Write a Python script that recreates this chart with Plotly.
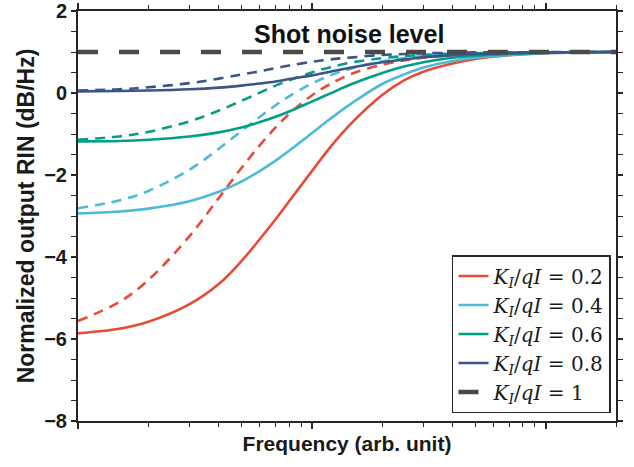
import plotly.graph_objects as go

# Frequency samples (arb. unit)
freq = [1, 1.5, 2, 3, 4, 5, 6, 7, 8, 10, 12, 15, 20, 25, 30, 40, 50, 70, 100, 150, 200]

# Solid curves (normalized output RIN, dB/Hz)
rin_02 = [-5.86, -5.75, -5.58, -5.15, -4.66, -4.10, -3.56, -3.08, -2.64, -1.91, -1.32, -0.70, -0.05, 0.32, 0.52, 0.72, 0.83, 0.92, 0.97, 0.99, 1.00]
rin_04 = [-2.94, -2.89, -2.82, -2.64, -2.41, -2.16, -1.90, -1.65, -1.41, -0.98, -0.63, -0.23, 0.22, 0.46, 0.62, 0.78, 0.86, 0.93, 0.97, 0.99, 1.00]
rin_06 = [-1.18, -1.17, -1.14, -1.06, -0.96, -0.84, -0.71, -0.58, -0.45, -0.21, -0.01, 0.23, 0.49, 0.65, 0.75, 0.86, 0.91, 0.95, 0.98, 0.99, 1.00]
rin_08 = [0.04, 0.05, 0.06, 0.09, 0.13, 0.18, 0.23, 0.28, 0.34, 0.43, 0.52, 0.63, 0.75, 0.82, 0.87, 0.92, 0.95, 0.97, 0.99, 1.00, 1.00]

# Dashed curves
rin_02_d = [-5.56, -5.10, -4.56, -3.49, -2.56, -1.83, -1.27, -0.84, -0.51, -0.06, 0.22, 0.48, 0.69, 0.80, 0.86, 0.92, 0.95, 0.97, 0.99, 1.00, 1.00]
rin_04_d = [-2.81, -2.62, -2.39, -1.87, -1.36, -0.93, -0.58, -0.30, -0.08, 0.23, 0.43, 0.61, 0.77, 0.85, 0.90, 0.94, 0.96, 0.98, 0.99, 1.00, 1.00]
rin_06_d = [-1.14, -1.06, -0.95, -0.69, -0.43, -0.19, 0.01, 0.18, 0.31, 0.50, 0.63, 0.75, 0.85, 0.90, 0.93, 0.96, 0.97, 0.99, 0.99, 1.00, 1.00]
rin_08_d = [0.06, 0.09, 0.14, 0.24, 0.35, 0.45, 0.53, 0.61, 0.67, 0.76, 0.82, 0.87, 0.93, 0.95, 0.97, 0.98, 0.99, 0.99, 1.00, 1.00, 1.00]

shot_x = [1, 200]
shot_y = [1, 1]

labels = ["0.2", "0.4", "0.6", "0.8"]
colors = ["#E64B35", "#4DBBD5", "#00A087", "#3C5488"]
solids = [rin_02, rin_04, rin_06, rin_08]
dashes = [rin_02_d, rin_04_d, rin_06_d, rin_08_d]

fig = go.Figure()
for lab, col, s, d in zip(labels, colors, solids, dashes):
    fig.add_trace(go.Scatter(
        x=freq, y=s, mode="lines", line=dict(color=col, width=2.6, shape="spline"),
        name=f"<i>K</i><sub><i>I</i></sub>/<i>qI</i> = {lab}", showlegend=True))
    fig.add_trace(go.Scatter(
        x=freq, y=d, mode="lines", line=dict(color=col, width=2.6, dash="10px,7px", shape="spline"),
        showlegend=False))

fig.add_trace(go.Scatter(
    x=shot_x, y=shot_y, mode="lines", line=dict(color="#4a4a4a", width=4.5, dash="20px,21px"),
    name="<i>K</i><sub><i>I</i></sub>/<i>qI</i> = 1"))

minor_x = [m * 10 ** e for e in range(0, 3) for m in range(2, 10) if m * 10 ** e <= 200]

fig.update_layout(
    width=634, height=467,
    margin=dict(l=78, r=18, t=11, b=46, autoexpand=False),
    paper_bgcolor="white", plot_bgcolor="white",
    font=dict(family="Liberation Sans, Arial, sans-serif", color="#1a1a1a"),
    showlegend=True,
    legend=dict(
        x=0.9907, y=0.0195, xanchor="right", yanchor="bottom",
        bgcolor="white", bordercolor="#262626", borderwidth=1.5,
        font=dict(family="DejaVu Serif, Liberation Serif, serif", size=20, color="#1a1a1a"),
        tracegroupgap=0, itemwidth=30,
    ),
    annotations=[dict(
        text="<b>Shot noise level</b>", x=0.504, xref="paper", y=1.44, yref="y",
        showarrow=False, font=dict(size=25, color="#111111"), xanchor="center", yanchor="middle")],
)

fig.update_xaxes(
    type="log", range=[0, 2.301], automargin=False,
    showgrid=False, zeroline=False,
    showline=True, linecolor="#262626", linewidth=2, mirror="allticks",
    ticks="outside", ticklen=6, tickwidth=1.5, tickcolor="#262626",
    tickvals=[1, 10, 100], showticklabels=False,
    minor=dict(ticks="outside", ticklen=4, tickwidth=1.2, tickcolor="#262626", tickvals=minor_x, showgrid=False),
    title=dict(text="<b>Frequency (arb. unit)</b>", font=dict(size=21, color="#1a1a1a"), standoff=8),
)
fig.update_yaxes(
    range=[-8, 2], dtick=2, tick0=0, automargin=False, ticklabeloverflow="allow",
    showgrid=False, zeroline=False,
    showline=True, linecolor="#262626", linewidth=2, mirror="allticks",
    ticks="outside", ticklen=5, tickwidth=1.5, tickcolor="#262626",
    minor=dict(ticks="outside", ticklen=5, tickwidth=1.2, tickcolor="#262626", dtick=0.5, showgrid=False),
    tickfont=dict(size=20, color="#1a1a1a", family="Liberation Sans, Arial, sans-serif", weight="bold"),
    title=dict(text="<b>Normalized output RIN (dB/Hz)</b>", font=dict(size=23, color="#1a1a1a"), standoff=3),
)

fig.write_html("out.html")
